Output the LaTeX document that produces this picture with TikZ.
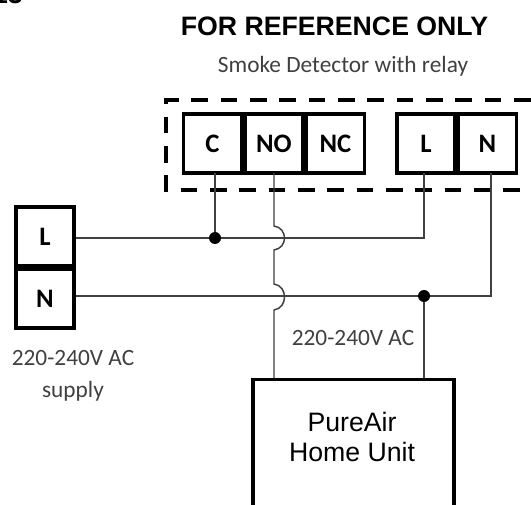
\documentclass[tikz,border=0pt]{standalone}
\usepackage{xcolor}
\usepackage{fontspec}
\setmainfont{Carlito}
\newfontfamily\arialfont{Liberation Sans}
\usetikzlibrary{positioning}
\definecolor{labelgrey}{HTML}{404040}
\tikzset{
  termbox/.style={rectangle,draw,line width=2.6pt,minimum width=43.5pt,minimum height=44pt,inner sep=0pt,font=\fontsize{20}{20}\selectfont\bfseries},
  wire/.style={line width=1.1pt,color=black!75},
  junct/.style={circle,fill=black,inner sep=0pt,minimum size=9pt},
  lbl/.style={inner sep=0pt,color=labelgrey,font=\fontsize{17.5}{17.5}\selectfont}
}
\begin{document}
\begin{tikzpicture}[x=.75pt,y=-.75pt]
\useasboundingbox (0,0) rectangle (531,505);
\clip (0,0) rectangle (531,505);
\node[inner sep=0pt,font=\arialfont\fontsize{20}{20}\selectfont\bfseries] (cut) at (8,-5.5) { 13 } ;
\node[inner sep=0pt,font=\arialfont\fontsize{20}{20}\selectfont\bfseries] (title) at (334.5,26) { FOR REFERENCE ONLY } ;
\node[lbl] (smoke) at (343,66) { Smoke Detector with relay } ;

\node[termbox] (c) at (212.5,143.5) { C } ;
\node[termbox,right=0pt of c] (no) { NO } ;
\node[termbox,right=0pt of no] (nc) { NC } ;
\node[termbox] (dl) at (426,143.5) { L } ;
\node[termbox,right=0pt of dl] (dn) { N } ;
\node[termbox] (sl) at (45,236.5) { L } ;
\node[termbox,below=0pt of sl] (sn) { N } ;

% detector outline runs off the page on the right
\draw[line width=2.6pt,dash pattern=on 12.5pt off 9.5pt] (560,100) -- (166,100) -- (166,190) -- (560,190) ;

\node[rectangle,draw,line width=2.6pt,minimum width=151pt,minimum height=120pt,anchor=north,inner sep=0pt] (unit) at (353.5,378) {} ;
\node[inner sep=0pt,align=center,font=\arialfont\fontsize{20}{23}\selectfont] (unittext) at (352,437) { PureAir \\ Home Unit } ;

\node[lbl] (acone) at (73,358) { 220-240V AC } ;
\node[lbl] (supply) at (73,391) { supply } ;
\node[lbl] (actwo) at (353,338) { 220-240V AC } ;

\node[junct] (jc) at (215,238) {} ;
\node[junct] (jn) at (424,296) {} ;

\coordinate (aone) at (274,226) ;
\coordinate (bone) at (274,250) ;
\coordinate (atwo) at (274,284) ;
\coordinate (btwo) at (274,310) ;

\draw[wire] (jc -| sl.east) -- (jc) ;
\draw[wire] (jc) -- (424,238) -- (424,173) ;
\draw[wire] (jn -| sn.east) -- (jn) ;
\draw[wire] (jn) -- (491,296) -- (491,173) ;
\draw[wire] (jc) -- (215,173) ;
\draw[wire] (jn) -- (424,378) ;
\draw[wire] (274,173) -- (aone) .. controls (288,228) and (288,248) .. (bone) -- (atwo) .. controls (288,286) and (288,308) .. (btwo) -- (274,378) ;
\end{tikzpicture}
\end{document}
